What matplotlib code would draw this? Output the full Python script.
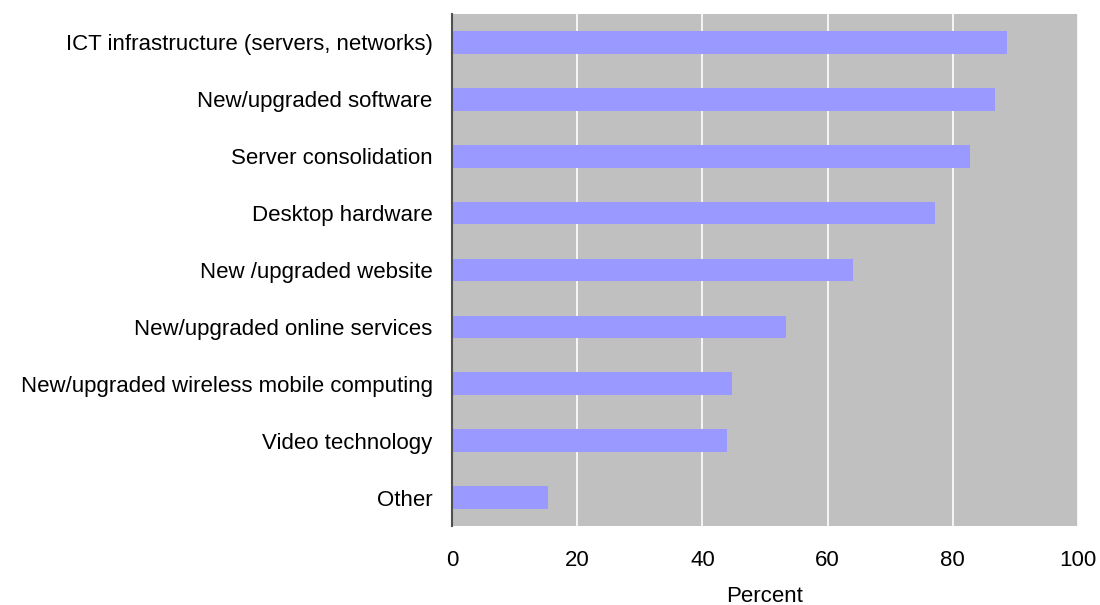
import matplotlib.pyplot as plt

plt.rcParams['font.family'] = ['Liberation Sans', 'DejaVu Sans']

categories = [
    "ICT infrastructure (servers, networks)",
    "New/upgraded software",
    "Server consolidation",
    "Desktop hardware",
    "New /upgraded website",
    "New/upgraded online services",
    "New/upgraded wireless mobile computing",
    "Video technology",
    "Other",
]
percent = [88.7, 86.8, 82.8, 77.2, 64.0, 53.4, 44.7, 43.9, 15.3]
xticks = [0, 20, 40, 60, 80, 100]

fig = plt.figure(figsize=(11, 6.05), dpi=100)
ax = fig.add_axes([452 / 1100, 79 / 605, 626 / 1100, 512 / 605])
ax.set_facecolor("#C0C0C0")

# top category first
pos = list(range(len(categories)))[::-1]
ax.barh(pos, percent, height=0.4, color="#9999FF", zorder=3)

ax.set_xlim(0, 100)
ax.set_ylim(-0.5, len(categories) - 0.5)
ax.set_xticks(xticks)
ax.set_yticks(pos)
ax.set_yticklabels(categories)
for x in xticks[1:]:
    ax.axvline(x, color="white", lw=1.2, zorder=1, clip_on=False)

ax.tick_params(axis="x", length=0, pad=17, labelsize=16)
ax.tick_params(axis="y", length=0, pad=14, labelsize=16)
ax.set_xlabel("Percent", fontsize=16, labelpad=11)

for side in ["top", "right", "bottom"]:
    ax.spines[side].set_visible(False)
ax.spines["left"].set_color("#505050")
ax.spines["left"].set_linewidth(1.5)
ax.spines["left"].set_zorder(4)

fig.savefig("out.png", dpi=100)
